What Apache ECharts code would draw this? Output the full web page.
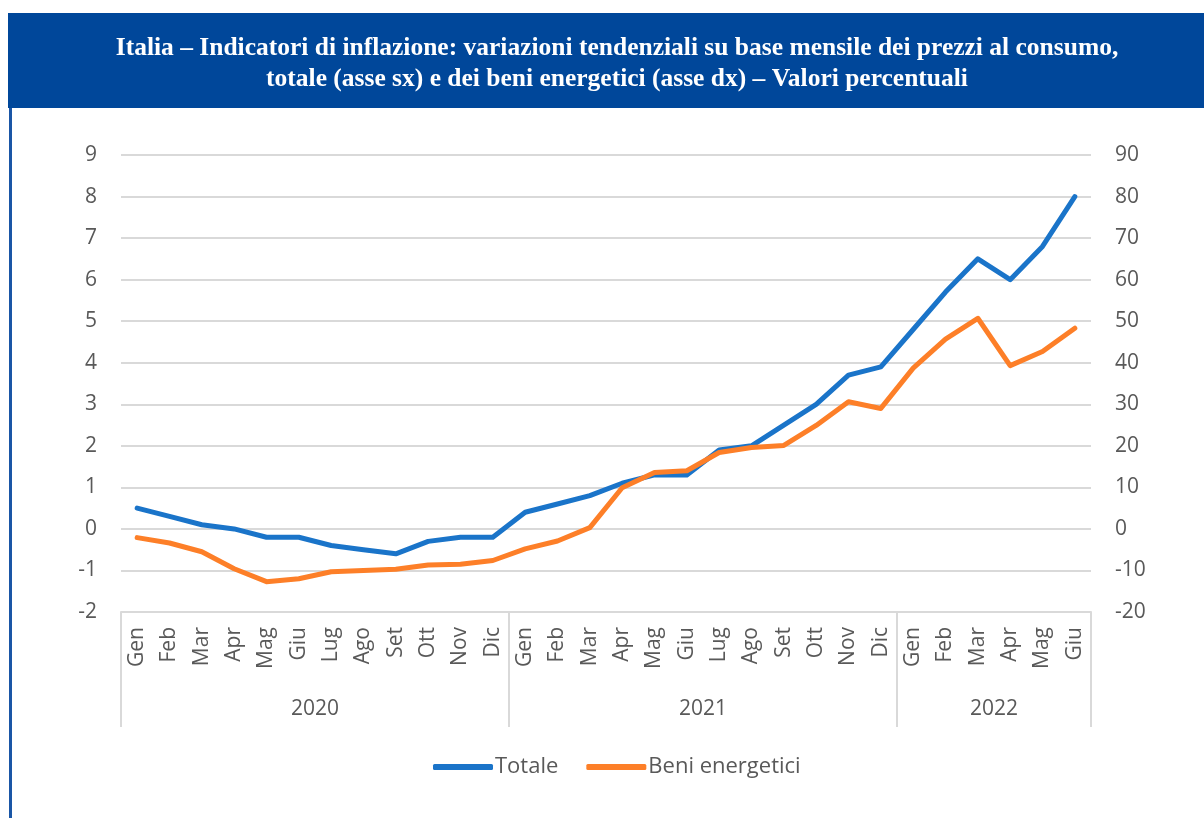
<!DOCTYPE html>
<html>
<head>
<meta charset="utf-8">
<script src="https://cdn.jsdelivr.net/npm/echarts@6/dist/echarts.min.js"></script>
<style>
  html, body { margin: 0; padding: 0; background: #fff; }
  #chart { width: 1204px; height: 818px; }
</style>
</head>
<body>
<div id="chart"></div>
<script>
// Data
var months = ['Gen','Feb','Mar','Apr','Mag','Giu','Lug','Ago','Set','Ott','Nov','Dic',
              'Gen','Feb','Mar','Apr','Mag','Giu','Lug','Ago','Set','Ott','Nov','Dic',
              'Gen','Feb','Mar','Apr','Mag','Giu'];
var years = ['2020', '2021', '2022'];
var yearCounts = [12, 12, 6];
var totale = [0.5, 0.3, 0.1, 0.0, -0.2, -0.2, -0.4, -0.5, -0.6, -0.3, -0.2, -0.2,
              0.4, 0.6, 0.8, 1.1, 1.3, 1.3, 1.9, 2.0, 2.5, 3.0, 3.7, 3.9,
              4.8, 5.7, 6.5, 6.0, 6.8, 8.0];
var energetici = [-2.1, -3.4, -5.5, -9.6, -12.7, -12.0, -10.3, -10.0, -9.7, -8.7, -8.5, -7.6,
                  -4.8, -2.9, 0.3, 9.9, 13.6, 14.0, 18.4, 19.6, 20.1, 24.9, 30.6, 29.0,
                  38.7, 45.7, 50.7, 39.3, 42.7, 48.3];

// year boundaries and centres on the category index scale
var yearEdges = [0], yearMids = [];
yearCounts.forEach(function (c, i) {
    yearMids.push(yearEdges[i] + c / 2);
    yearEdges.push(yearEdges[i] + c);
});

var chart = echarts.init(document.getElementById('chart'));

var gray = '#595959';
var gridGray = '#d9d9d9';
var font = 'Open Sans';

option = {
    animation: false,
    textStyle: { fontFamily: font },
    graphic: [
        { type: 'rect', shape: { x: 8, y: 13, width: 1196, height: 95 }, style: { fill: '#00479a' } },
        { type: 'rect', shape: { x: 9, y: 108, width: 3, height: 710 }, style: { fill: '#1a56a6' } }
    ],
    title: {
        text: 'Italia \u2013 Indicatori di inflazione: variazioni tendenziali su base mensile dei prezzi al consumo,\ntotale (asse sx) e dei beni energetici (asse dx) \u2013 Valori percentuali',
        left: 612,
        textAlign: 'center',
        top: 28,
        textStyle: {
            color: '#fff',
            fontFamily: 'Liberation Serif',
            fontWeight: 'bold',
            fontSize: 25.5,
            lineHeight: 31
        }
    },
    legend: {
        data: ['Totale', 'Beni energetici'],
        top: 751,
        left: 428,
        icon: 'roundRect',
        itemWidth: 60,
        itemHeight: 6,
        itemGap: 28,
        textStyle: { color: gray, fontSize: 22, fontFamily: font, padding: [0, 0, 0, -3] }
    },
    grid: { left: 121, right: 113, top: 155, bottom: 206, containLabel: false },
    xAxis: [
        {
            type: 'category',
            data: months,
            boundaryGap: true,
            axisLine: { show: true, onZero: false, lineStyle: { color: gridGray, width: 2 } },
            axisTick: { show: false },
            axisLabel: { rotate: 90, color: gray, fontSize: 21, margin: 15, interval: 0 },
            splitLine: { show: false }
        },
        {
            type: 'value',
            position: 'bottom',
            min: 0,
            max: months.length,
            axisLine: { show: false, onZero: false },
            axisTick: {
                show: true,
                inside: false,
                customValues: yearEdges,
                length: 115,
                lineStyle: { color: gridGray, width: 2 }
            },
            axisLabel: {
                customValues: yearMids,
                color: gray,
                fontSize: 21,
                margin: 87,
                formatter: function (v) {
                    return years[yearMids.indexOf(v)];
                }
            },
            splitLine: { show: false }
        }
    ],
    yAxis: [
        {
            type: 'value',
            min: -2,
            max: 9,
            interval: 1,
            axisLine: { show: false },
            axisTick: { show: false },
            axisLabel: { color: gray, fontSize: 21, margin: 24 },
            splitLine: { lineStyle: { color: gridGray, width: 2 } }
        },
        {
            type: 'value',
            min: -20,
            max: 90,
            interval: 10,
            position: 'right',
            axisLine: { show: false },
            axisTick: { show: false },
            axisLabel: { color: gray, fontSize: 21, margin: 24 },
            splitLine: { show: false }
        }
    ],
    series: [
        {
            name: 'Totale',
            type: 'line',
            data: totale,
            yAxisIndex: 0,
            showSymbol: false,
            lineStyle: { color: '#1a74c9', width: 5, cap: 'round', join: 'round' },
            itemStyle: { color: '#1a74c9' }
        },
        {
            name: 'Beni energetici',
            type: 'line',
            data: energetici,
            yAxisIndex: 1,
            showSymbol: false,
            lineStyle: { color: '#fd7f28', width: 5, cap: 'round', join: 'round' },
            itemStyle: { color: '#fd7f28' }
        }
    ]
};

chart.setOption(option);
</script>
</body>
</html>
